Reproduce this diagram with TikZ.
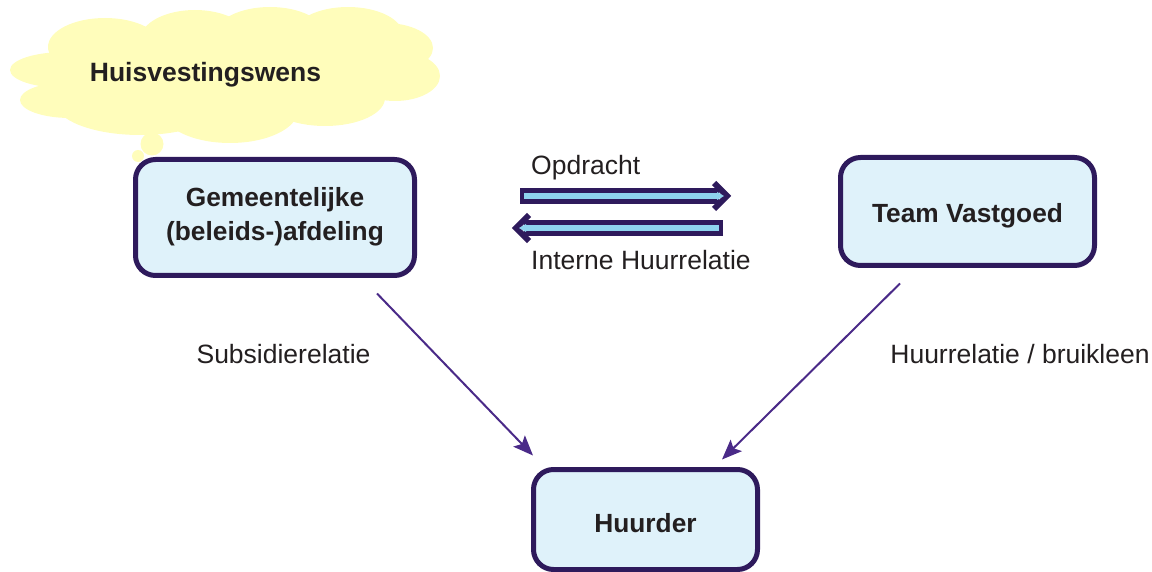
\documentclass[tikz,border=0pt]{standalone}
\usepackage{fontspec}
\setmainfont{Liberation Sans}
\usetikzlibrary{arrows.meta,calc}
\definecolor{boxfill}{HTML}{DFF2FA}
\definecolor{boxline}{HTML}{2E1A5C}
\definecolor{connc}{HTML}{4A2A88}
\definecolor{cloudc}{HTML}{FFFDBB}
\definecolor{innerc}{HTML}{8ED3EE}
\definecolor{txt}{HTML}{231F20}
\begin{document}
\begin{tikzpicture}[x=1pt,y=-1pt,
  box/.style={draw=boxline, fill=boxfill, line width=5pt, rounded corners=20pt,
    font=\fontsize{26.3}{34}\selectfont\bfseries, text=txt, align=center, inner sep=0pt},
  lbl/.style={font=\fontsize{26.5}{30}\selectfont, text=txt, inner sep=0pt},
  blbl/.style={font=\fontsize{26.5}{30}\selectfont\bfseries, text=txt, inner sep=0pt},
  rel/.style={draw=connc, line width=2pt, -{Stealth[length=20pt,width=16pt,inset=4pt]}},
  outerarrow/.style={draw=boxline, line width=16pt},
  outerhead/.style={draw=boxline, line width=6pt, line join=miter},
  innerarrow/.style={draw=innerc, line width=5.5pt}]
\useasboundingbox (0,0) rectangle (1152,572);

% cloud
\begin{scope}[fill=cloudc]
  \fill (230,75) ellipse [x radius=170pt, y radius=50pt];
  \fill (105,47) ellipse [x radius=57pt, y radius=29pt];
  \fill (195,40) ellipse [x radius=55pt, y radius=30pt];
  \fill (270,35) ellipse [x radius=55pt, y radius=28pt];
  \fill (348,35) ellipse [x radius=55pt, y radius=28pt];
  \fill (385,48) ellipse [x radius=48pt, y radius=25pt];
  \fill (395,76) ellipse [x radius=45pt, y radius=25pt];
  \fill (325,98) ellipse [x radius=60pt, y radius=28pt];
  \fill (230,110) ellipse [x radius=68pt, y radius=33pt];
  \fill (140,102) ellipse [x radius=85pt, y radius=33pt];
  \fill (70,100) ellipse [x radius=50pt, y radius=18pt];
  \fill (65,70) ellipse [x radius=55pt, y radius=18pt];
  \fill (152,144) circle [radius=11.5pt];
  \fill (138,156) circle [radius=6pt];
\end{scope}
\node[blbl, anchor=base] (wens) at (205.5,82) {Huisvestingswens};

% boxes
\node[box, minimum width=279pt, minimum height=116pt, text height=47pt, text depth=0pt]
  (gem) at (275,217.5) {Gemeentelijke\\(beleids-)afdeling};
\node[box, minimum width=254pt, minimum height=108pt, text height=23pt, text depth=0pt]
  (team) at (967.5,211.5) {Team Vastgoed};
\node[box, minimum width=224pt, minimum height=100pt, text height=25pt, text depth=0pt]
  (huur) at (645.5,519.5) {Huurder};

% double arrows
\coordinate (oS) at (520,196);
\coordinate (oE) at (719,196);
\coordinate (iS) at (723,228);
\coordinate (iE) at (524,228);
\draw[outerarrow] (oS) -- (oE);
\draw[outerhead] ($(oE)+(-5,-13)$) -- ($(oE)+(8,0)$) -- ($(oE)+(-5,13)$);
\draw[innerarrow] ($(oS)+(4,0)$) -- ($(oE)+(-1,0)$);
\fill[innerc] ($(oE)+(-2,-4)$) -- ($(oE)+(5,0)$) -- ($(oE)+(-2,4)$) -- cycle;

\draw[outerarrow] (iS) -- (iE);
\draw[outerhead] ($(iE)+(5,-13)$) -- ($(iE)+(-8,0)$) -- ($(iE)+(5,13)$);
\draw[innerarrow] ($(iS)+(-4,0)$) -- ($(iE)+(1,0)$);
\fill[innerc] ($(iE)+(2,-4)$) -- ($(iE)+(-5,0)$) -- ($(iE)+(2,4)$) -- cycle;

\node[lbl, anchor=base west] (opd) at (531,175) {Opdracht};
\node[lbl, anchor=base west] (ihr) at (531,270) {Interne Huurrelatie};

% relations
\draw[rel] ([shift={(102,15.5)}]gem.south) -- ([shift={(-112.5,-11.5)}]huur.north);
\draw[rel] ([shift={(-67.5,15.5)}]team.south) -- ([shift={(76.5,-7.5)}]huur.north);
\node[lbl, anchor=base] (sub) at (283.5,363) {Subsidierelatie};
\node[lbl, anchor=base] (hb) at (1020,363) {Huurrelatie / bruikleen};
\end{tikzpicture}
\end{document}
